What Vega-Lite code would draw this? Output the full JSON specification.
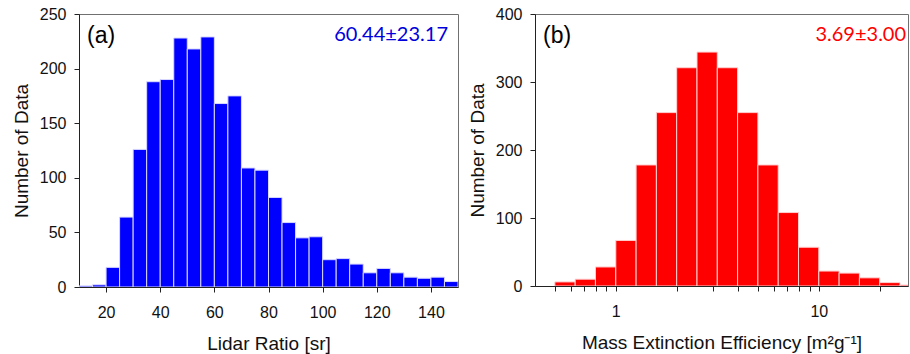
{
  "$schema": "https://vega.github.io/schema/vega-lite/v6.json",
  "padding": {"left": 11, "top": 5, "right": 0, "bottom": 0},
  "spacing": 8,
  "background": "white",
  "config": {
    "font": "Liberation Sans",
    "view": {"stroke": "#707070", "strokeWidth": 1},
    "axis": {
      "domainColor": "#222",
      "tickColor": "#222",
      "tickSize": 5,
      "labelFont": "Liberation Sans",
      "labelFontSize": 16,
      "labelColor": "#111",
      "labelOverlap": false,
      "titleFont": "Liberation Sans",
      "titleFontSize": 19,
      "titleFontWeight": "normal",
      "titleColor": "#111",
      "grid": false
    }
  },
  "datasets": {
    "lidar": [
      {"lo": 10, "hi": 15, "n": 1},
      {"lo": 15, "hi": 20, "n": 2},
      {"lo": 20, "hi": 25, "n": 18},
      {"lo": 25, "hi": 30, "n": 64},
      {"lo": 30, "hi": 35, "n": 126},
      {"lo": 35, "hi": 40, "n": 188},
      {"lo": 40, "hi": 45, "n": 190},
      {"lo": 45, "hi": 50, "n": 228},
      {"lo": 50, "hi": 55, "n": 218},
      {"lo": 55, "hi": 60, "n": 229},
      {"lo": 60, "hi": 65, "n": 168},
      {"lo": 65, "hi": 70, "n": 175},
      {"lo": 70, "hi": 75, "n": 109},
      {"lo": 75, "hi": 80, "n": 107},
      {"lo": 80, "hi": 85, "n": 82},
      {"lo": 85, "hi": 90, "n": 59},
      {"lo": 90, "hi": 95, "n": 45},
      {"lo": 95, "hi": 100, "n": 46},
      {"lo": 100, "hi": 105, "n": 25},
      {"lo": 105, "hi": 110, "n": 26},
      {"lo": 110, "hi": 115, "n": 21},
      {"lo": 115, "hi": 120, "n": 13},
      {"lo": 120, "hi": 125, "n": 17},
      {"lo": 125, "hi": 130, "n": 13},
      {"lo": 130, "hi": 135, "n": 9},
      {"lo": 135, "hi": 140, "n": 8},
      {"lo": 140, "hi": 145, "n": 9},
      {"lo": 145, "hi": 150, "n": 5}
    ],
    "mee": [
      {"lo": 0.501, "hi": 0.631, "n": 6},
      {"lo": 0.631, "hi": 0.794, "n": 10},
      {"lo": 0.794, "hi": 1.0, "n": 28},
      {"lo": 1.0, "hi": 1.259, "n": 67},
      {"lo": 1.259, "hi": 1.585, "n": 178},
      {"lo": 1.585, "hi": 1.995, "n": 255},
      {"lo": 1.995, "hi": 2.512, "n": 321},
      {"lo": 2.512, "hi": 3.162, "n": 344},
      {"lo": 3.162, "hi": 3.981, "n": 321},
      {"lo": 3.981, "hi": 5.012, "n": 255},
      {"lo": 5.012, "hi": 6.310, "n": 178},
      {"lo": 6.310, "hi": 7.943, "n": 108},
      {"lo": 7.943, "hi": 10.0, "n": 57},
      {"lo": 10.0, "hi": 12.59, "n": 22},
      {"lo": 12.59, "hi": 15.85, "n": 19},
      {"lo": 15.85, "hi": 19.95, "n": 12},
      {"lo": 19.95, "hi": 25.12, "n": 5},
      {"lo": 25.12, "hi": 31.62, "n": 1.5}
    ],
    "panelA": [{"x": 13, "y": 223, "t": "(a)"}],
    "statA": [{"x": 146.3, "y": 225, "t": "60.44±23.17"}],
    "panelB": [{"x": 0.438, "y": 357, "t": "(b)"}],
    "statB": [{"x": 26.9, "y": 360, "t": "3.69±3.00"}]
  },
  "hconcat": [
    {
      "width": 379,
      "height": 273,
      "layer": [
        {
          "data": {"name": "lidar"},
          "mark": {"type": "rect", "color": "#0000ff", "stroke": "#d8d8ff", "strokeWidth": 1, "clip": true},
          "encoding": {
            "x": {
              "field": "lo", "type": "quantitative",
              "scale": {"domain": [10, 150], "nice": false, "zero": false},
              "axis": {
                "title": "Lidar Ratio [sr]",
                "values": [20, 40, 60, 80, 100, 120, 140],
                "labelOverlap": false,
                "labelPadding": 12,
                "titlePadding": 14
              }
            },
            "x2": {"field": "hi"},
            "y": {
              "field": "n", "type": "quantitative",
              "scale": {"domain": [0, 250], "nice": false},
              "axis": {
                "title": "Number of Data",
                "values": [0, 50, 100, 150, 200, 250],
                "labelOverlap": false,
                "labelPadding": 8,
                "titlePadding": 8
              }
            },
            "y2": {"datum": 0}
          }
        },
        {
          "data": {"name": "panelA"},
          "mark": {"type": "text", "baseline": "alphabetic", "align": "left", "font": "Liberation Sans", "fontSize": 23, "color": "#000000"},
          "encoding": {
            "x": {"field": "x", "type": "quantitative"},
            "y": {"field": "y", "type": "quantitative"},
            "text": {"field": "t"}
          }
        },
        {
          "data": {"name": "statA"},
          "mark": {"type": "text", "baseline": "alphabetic", "align": "right", "font": "Lato", "fontSize": 20, "color": "#0000dd"},
          "encoding": {
            "x": {"field": "x", "type": "quantitative"},
            "y": {"field": "y", "type": "quantitative"},
            "text": {"field": "t"}
          }
        }
      ]
    },
    {
      "width": 373,
      "height": 272,
      "layer": [
        {
          "data": {"name": "mee"},
          "mark": {"type": "rect", "color": "#ff0000", "stroke": "#ffd0d0", "strokeWidth": 1, "clip": true},
          "encoding": {
            "x": {
              "field": "lo", "type": "quantitative",
              "scale": {"type": "log", "domain": [0.4, 27.5], "nice": false},
              "axis": {
                "title": "Mass Extinction Efficiency [m²g⁻¹]",
                "values": [0.5, 0.6, 0.7, 0.8, 0.9, 1, 2, 3, 4, 5, 6, 7, 8, 9, 10, 20],
                "labelExpr": "datum.value == 1 || datum.value == 10 ? datum.label : ''",
                "format": "~g",
                "labelOverlap": false,
                "labelPadding": 12,
                "titlePadding": 14
              }
            },
            "x2": {"field": "hi"},
            "y": {
              "field": "n", "type": "quantitative",
              "scale": {"domain": [0, 400], "nice": false},
              "axis": {
                "title": "Number of Data",
                "values": [0, 100, 200, 300, 400],
                "labelOverlap": false,
                "labelPadding": 8,
                "titlePadding": 8
              }
            },
            "y2": {"datum": 0}
          }
        },
        {
          "data": {"name": "panelB"},
          "mark": {"type": "text", "baseline": "alphabetic", "align": "left", "font": "Liberation Sans", "fontSize": 23, "color": "#000000"},
          "encoding": {
            "x": {"field": "x", "type": "quantitative"},
            "y": {"field": "y", "type": "quantitative"},
            "text": {"field": "t"}
          }
        },
        {
          "data": {"name": "statB"},
          "mark": {"type": "text", "baseline": "alphabetic", "align": "right", "font": "Lato", "fontSize": 20, "color": "#ff0000"},
          "encoding": {
            "x": {"field": "x", "type": "quantitative"},
            "y": {"field": "y", "type": "quantitative"},
            "text": {"field": "t"}
          }
        }
      ]
    }
  ]
}
